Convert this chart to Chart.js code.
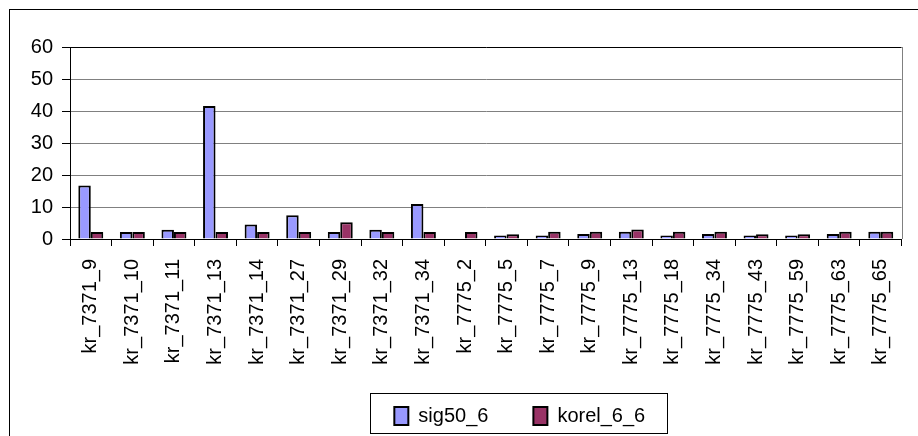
<!DOCTYPE html>
<html>
<head>
<meta charset="utf-8">
<script src="https://cdn.jsdelivr.net/npm/chart.js@4.4.0/dist/chart.umd.min.js"></script>
<style>
  html, body { margin: 0; padding: 0; background: #fff; }
  canvas { display: block; }
</style>
</head>
<body>
<canvas id="chart" width="918" height="436"></canvas>
<script>
const categories = [
  'kr_7371_9', 'kr_7371_10', 'kr_7371_11', 'kr_7371_13', 'kr_7371_14',
  'kr_7371_27', 'kr_7371_29', 'kr_7371_32', 'kr_7371_34', 'kr_7775_2',
  'kr_7775_5', 'kr_7775_7', 'kr_7775_9', 'kr_7775_13', 'kr_7775_18',
  'kr_7775_34', 'kr_7775_43', 'kr_7775_59', 'kr_7775_63', 'kr_7775_65'
];
const sig50 = [16.7, 2.2, 2.9, 41.6, 4.5, 7.4, 2.2, 2.9, 10.9, 0,
  1.1, 1.1, 1.6, 2.3, 1.1, 1.6, 1.1, 1.1, 1.6, 2.3];
const korel = [2.2, 2.2, 2.2, 2.2, 2.2, 2.2, 5.2, 2.2, 2.2, 2.2,
  1.5, 2.3, 2.3, 3.0, 2.3, 2.3, 1.5, 1.5, 2.3, 2.3];
const yTicks = [0, 10, 20, 30, 40, 50, 60];

Chart.defaults.font.family = "'Liberation Sans', Arial, sans-serif";
Chart.defaults.font.size = 20;
Chart.defaults.color = '#000';

// frame, plot right edge, legend border
const framePlugin = {
  id: 'frame',
  afterLayout(chart) {
    // legend in the reference sits right of the plot centre
    chart.legend.left += 34;
    chart.legend.right += 34;
    // let the rotated category labels run past the legend top (no clipping)
    chart.scales.x.bottom = chart.height;
  },
  beforeDraw(chart) {
    const ctx = chart.ctx;
    ctx.save();
    ctx.strokeStyle = '#000';
    ctx.lineWidth = 1;
    ctx.strokeRect(9.5, 9.5, 1000, 1000);
    ctx.restore();
  },
  afterDraw(chart) {
    const ctx = chart.ctx;
    const area = chart.chartArea;
    ctx.save();
    ctx.strokeStyle = '#808080';
    ctx.lineWidth = 1;
    ctx.beginPath();
    ctx.moveTo(Math.round(area.right) + 0.5, area.top);
    ctx.lineTo(Math.round(area.right) + 0.5, area.bottom);
    ctx.stroke();

    const boxes = chart.legend.legendHitBoxes;
    if (boxes && boxes.length) {
      const first = boxes[0];
      const last = boxes[boxes.length - 1];
      const left = Math.round(first.left - 24) + 0.5;
      const right = Math.round(last.left + last.width + 22) + 0.5;
      const top = Math.round(first.top - 13) + 0.5;
      const bottom = Math.round(first.top + first.height + 7) + 0.5;
      ctx.strokeStyle = '#000';
      ctx.strokeRect(left, top, right - left, bottom - top);
    }
    ctx.restore();
  }
};

const data = {
  labels: categories,
  datasets: [
    {
      label: 'sig50_6',
      data: sig50,
      backgroundColor: '#9999FF',
      borderColor: '#000',
      borderWidth: 2,
      categoryPercentage: 0.6,
      barPercentage: 1.0
    },
    {
      label: 'korel_6_6',
      data: korel,
      backgroundColor: '#993366',
      borderColor: '#000',
      borderWidth: 2,
      categoryPercentage: 0.6,
      barPercentage: 1.0
    }
  ]
};

const config = {
  type: 'bar',
  data,
  options: {
    responsive: false,
    animation: false,
    devicePixelRatio: 1,
    layout: { padding: { top: 47, right: 9, left: 0, bottom: 0 } },
    plugins: {
      tooltip: { enabled: false },
      legend: {
        position: 'bottom',
        fullSize: false,
        labels: {
          boxWidth: 14,
          boxHeight: 18,
          padding: 45,
          color: '#000',
          font: { size: 20 }
        }
      }
    },
    scales: {
      x: {
        afterFit(scale) { scale.height = 122; },
        grid: {
          drawOnChartArea: false,
          drawTicks: true,
          tickLength: 7,
          color: '#000',
          offset: true
        },
        border: { color: '#000', width: 1 },
        ticks: {
          autoSkip: false,
          minRotation: 90,
          maxRotation: 90,
          padding: 13,
          color: '#000',
          font: { size: 20 }
        }
      },
      y: {
        min: 0,
        max: 60,
        afterFit(scale) { scale.width = 70; },
        afterBuildTicks(scale) {
          scale.ticks = yTicks.map(v => ({ value: v }));
        },
        grid: {
          color: ctx => (ctx.tick && ctx.tick.value === 60 ? '#000' : '#808080'),
          tickColor: '#000',
          tickLength: 8,
          drawTicks: true
        },
        border: { color: '#000', width: 1 },
        ticks: {
          stepSize: 10,
          padding: 9,
          color: '#000',
          font: { size: 20 }
        }
      }
    }
  },
  plugins: [framePlugin]
};

const chart = new Chart(document.getElementById('chart'), config);
</script>
</body>
</html>
